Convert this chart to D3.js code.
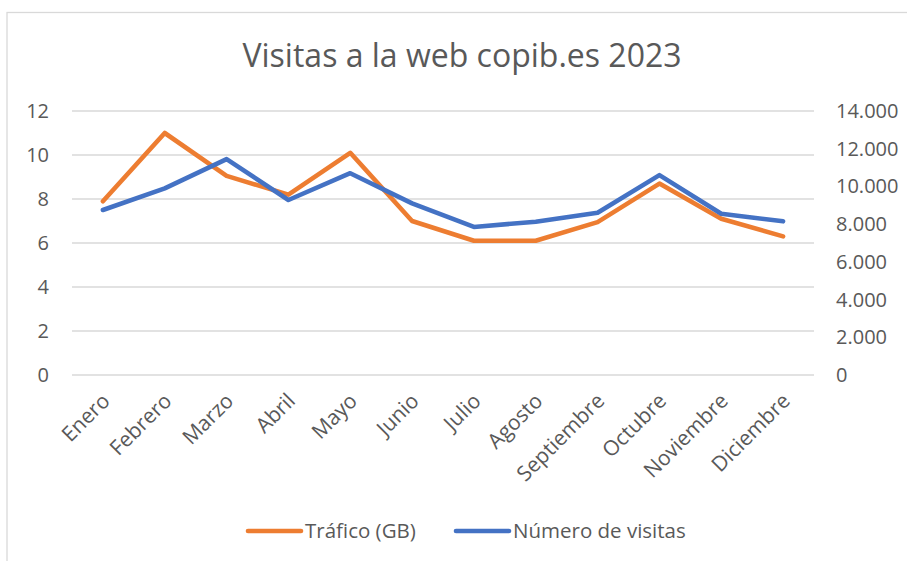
<!DOCTYPE html>
<meta charset="utf-8">
<style>
body { margin: 0; background: #fff; }
svg text { font-family: "Open Sans", sans-serif; fill: #595959; }
.grid line { stroke: #d9d9d9; stroke-width: 1.3px; }
.serie { fill: none; stroke-width: 4.6px; stroke-linejoin: round; stroke-linecap: round; }
</style>
<div id="chart"></div>
<script src="https://d3js.org/d3.v7.min.js"></script>
<script>

var meses = ["Enero","Febrero","Marzo","Abril","Mayo","Junio","Julio","Agosto","Septiembre","Octubre","Noviembre","Diciembre"];
var trafico = [7.9, 11, 9.05, 8.2, 10.1, 7.0, 6.1, 6.1, 6.95, 8.7, 7.1, 6.3];
var visitas = [8750, 9900, 11450, 9280, 10700, 9100, 7850, 8130, 8600, 10600, 8550, 8150];
var ticksIzq = [0, 2, 4, 6, 8, 10, 12];
var ticksDer = [0, 2000, 4000, 6000, 8000, 10000, 12000, 14000];

var width = 907, height = 561;
var plotLeft = 72, plotRight = 814, plotTop = 111, plotBottom = 375;

var svg = d3.select("#chart").append("svg")
    .attr("width", width)
    .attr("height", height);

// marco del grafico
svg.append("rect")
    .attr("x", 7).attr("y", 12.5)
    .attr("width", 960).attr("height", 600)
    .attr("fill", "none")
    .attr("stroke", "#d9d9d9")
    .attr("stroke-width", 1.3);

var x = d3.scaleBand().domain(meses).range([plotLeft, plotRight]);
var yIzq = d3.scaleLinear().domain([0, 12]).range([plotBottom, plotTop]);
var yDer = d3.scaleLinear().domain([0, 14000]).range([plotBottom, plotTop]);

svg.append("g")
    .attr("class", "grid")
  .selectAll("line")
  .data(ticksIzq)
  .enter().append("line")
    .attr("x1", plotLeft).attr("x2", plotRight)
    .attr("y1", function(d) { return yIzq(d); })
    .attr("y2", function(d) { return yIzq(d); });

svg.append("g")
  .selectAll("text")
  .data(ticksIzq)
  .enter().append("text")
    .attr("x", 49)
    .attr("y", function(d) { return yIzq(d); })
    .attr("dy", "0.35em")
    .attr("text-anchor", "end")
    .style("font-size", "20px")
    .text(function(d) { return d; });

var fmt = d3.formatLocale({decimal: ",", thousands: ".", grouping: [3], currency: ["", "€"]}).format(",");

svg.append("g")
  .selectAll("text")
  .data(ticksDer)
  .enter().append("text")
    .attr("x", 836)
    .attr("y", function(d) { return yDer(d); })
    .attr("dy", "0.35em")
    .style("font-size", "20px")
    .text(function(d) { return fmt(d); });

svg.append("g")
  .selectAll("text")
  .data(meses)
  .enter().append("text")
    .attr("transform", function(d) {
      return "translate(" + (x(d) + x.bandwidth() / 2 + 3) + "," + 397 + ") rotate(-45)";
    })
    .attr("text-anchor", "end")
    .attr("dy", "0.35em")
    .style("font-size", "21px")
    .text(function(d) { return d; });

var lineaIzq = d3.line()
    .x(function(d, i) { return x(meses[i]) + x.bandwidth() / 2; })
    .y(function(d) { return yIzq(d); });
var lineaDer = d3.line()
    .x(function(d, i) { return x(meses[i]) + x.bandwidth() / 2; })
    .y(function(d) { return yDer(d); });

svg.append("path")
    .attr("class", "serie")
    .attr("stroke", "#ed7d31")
    .attr("d", lineaIzq(trafico));

svg.append("path")
    .attr("class", "serie")
    .attr("stroke", "#4472c4")
    .attr("d", lineaDer(visitas));

svg.append("text")
    .attr("x", 462)
    .attr("y", 67)
    .attr("text-anchor", "middle")
    .style("font-size", "32px")
    .text("Visitas a la web copib.es 2023");

// leyenda
var leyenda = [
  {nombre: "Tráfico (GB)", color: "#ed7d31", x: 248},
  {nombre: "Número de visitas", color: "#4472c4", x: 456}
];

var item = svg.append("g").selectAll("g")
  .data(leyenda)
  .enter().append("g")
    .attr("transform", function(d) { return "translate(" + d.x + ",531)"; });

item.append("line")
    .attr("x1", 0).attr("x2", 53)
    .attr("stroke", function(d) { return d.color; })
    .attr("stroke-width", 4.6)
    .attr("stroke-linecap", "round");

item.append("text")
    .attr("x", 57)
    .attr("dy", "0.35em")
    .style("font-size", "20.5px")
    .text(function(d) { return d.nombre; });

</script>
